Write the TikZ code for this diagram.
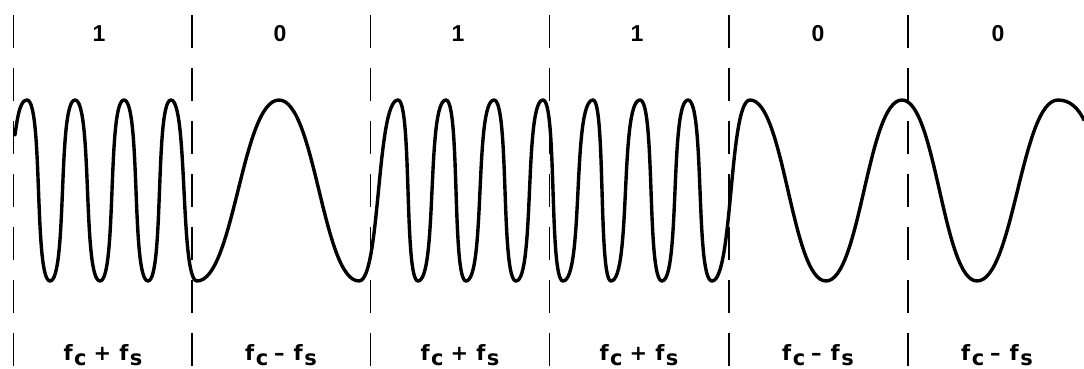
\documentclass[tikz,border=0pt]{standalone}
\usepackage{fontspec}
\setmainfont{Liberation Sans}
\newfontfamily\labfont{DejaVu Sans}
\newcommand{\lowsub}[1]{\kern1.5pt\raisebox{-5pt}{#1}}
\newcommand{\fplus}{f\lowsub{c}\hspace{7pt}+\hspace{8pt}f\lowsub{s}}
\newcommand{\fminus}{f\lowsub{c}\hspace{6pt}–\hspace{9pt}f\lowsub{s}}
\begin{document}
\begin{tikzpicture}[x=1pt,y=-1pt,
  boundary/.style={line width=1.8pt,dash pattern=on 33pt off 20pt},
  wave/.style={line width=3.4pt,line join=round,line cap=round},
  bitlabel/.style={font=\fontsize{23}{26}\selectfont\bfseries,inner sep=0pt},
  freqlabel/.style={font=\labfont\fontsize{21}{24}\selectfont\bfseries,inner sep=0pt,anchor=base}]
\useasboundingbox (0,0) rectangle (1084,369);
% bit boundaries
\foreach \n/\x in {b0/13.5,b1/192,b2/370.5,b3/549.5,b4/729,b5/908}{
  \coordinate (\n top) at (\x,15);
  \coordinate (\n bot) at (\x,369);
  \draw[boundary] (\n top) -- (\n bot);
}
% bit labels
\node[bitlabel] (l1) at (99,34) {1};
\node[bitlabel] (l2) at (280,34) {0};
\node[bitlabel] (l3) at (458,34) {1};
\node[bitlabel] (l4) at (637,34) {1};
\node[bitlabel] (l5) at (818,34) {0};
\node[bitlabel] (l6) at (998,34) {0};
% frequency labels
\node[freqlabel] (f1) at (103,360) {\fplus};
\node[freqlabel] (f2) at (281,360) {\fminus};
\node[freqlabel] (f3) at (460,360) {\fplus};
\node[freqlabel] (f4) at (639,360) {\fplus};
\node[freqlabel] (f5) at (818,360) {\fminus};
\node[freqlabel] (f6) at (997,360) {\fminus};
% FSK waveform: extrema joined by smooth half-cycles
\coordinate (ws) at (15,135);
\coordinate (we) at (1084,120);
\draw[wave] (ws) .. controls (18,112) and (21,100) .. (27,100)
  \foreach \xa/\ya/\xb/\yb/\k in {
    27/100/50/281/0.7, 50/281/75/100/0.7, 75/100/100/281/0.7,
    100/281/124/100/0.7, 124/100/148/281/0.7, 148/281/171/100/0.7,
    171/100/197/281/0.65, 197/281/279/100/0.45, 279/100/359/281/0.45,
    359/281/398/100/0.55, 398/100/418/281/0.7, 418/281/446/100/0.7,
    446/100/466/281/0.7, 466/281/494/100/0.7, 494/100/516/281/0.7,
    516/281/543/100/0.7, 543/100/563/281/0.7, 563/281/593/100/0.7,
    593/100/611/281/0.7, 611/281/640/100/0.7, 640/100/662/281/0.7,
    662/281/688/100/0.7, 688/100/712/281/0.7, 712/281/750/100/0.55,
    750/100/826/281/0.45, 826/281/902/100/0.45, 902/100/977/281/0.45,
    977/281/1058/100/0.45}
  { .. controls ({\xa+\k*(\xb-\xa)},\ya) and ({\xb-\k*(\xb-\xa)},\yb) .. (\xb,\yb) }
  .. controls (1070,100) and (1078,108) .. (we);
\end{tikzpicture}
\end{document}
